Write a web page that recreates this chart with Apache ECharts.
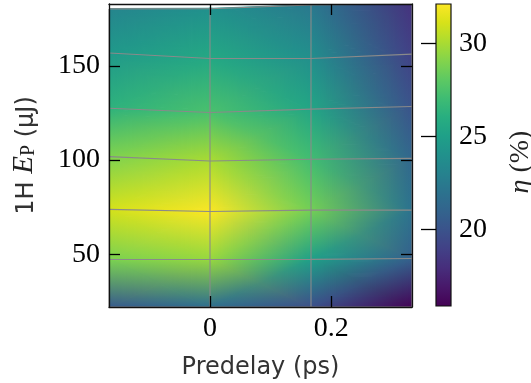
<!DOCTYPE html>
<html><head><meta charset="utf-8">
<script src="https://cdn.jsdelivr.net/npm/echarts@6/dist/echarts.min.js"></script>
<style>html,body{margin:0;padding:0;background:#fff}#c{width:531px;height:383px}</style>
</head><body><div id="c"></div>
<script>
// Scan grid: predelay columns (ps)
const predelay = [-1/6, 0, 1/6, 1/3];
// Pump energy of each scan row at each predelay column (uJ)
const rowEnergy = [
  [22.0, 22.0, 22.0, 22.0],
  [47.2, 47.2, 47.3, 47.7],
  [73.8, 72.7, 73.4, 73.4],
  [101.8, 99.5, 100.4, 100.9],
  [127.5, 125.2, 127.0, 128.4],
  [156.8, 153.9, 153.9, 156.2],
  [180.2, 180.3, 182.3, 182.8]
];
// Efficiency eta (%) at each node
const efficiency = [
  [20.5, 21.7, 19.8, 16.0],
  [28.8, 29.5, 25.0, 20.8],
  [31.0, 32.0, 28.6, 22.0],
  [28.9, 30.0, 27.1, 21.2],
  [26.3, 27.4, 25.4, 20.0],
  [24.5, 25.6, 23.9, 19.0],
  [23.2, 24.0, 22.4, 18.2]
];
const xTicks = [0, 0.2];
const yTicks = [50, 100, 150];
const cbTicks = [20, 25, 30];
const etaMin = 15.9, etaMax = 32.1;
const xMin = -1/6, xMax = 1/3, yMin = 22.0, yMax = 182.8;

const VIR = ['#440154','#481769','#472d7b','#424086','#3b528b','#33638d','#2c728e','#26828e','#21918c','#1fa088','#28ae80','#3fbc73','#5ec962','#84d44b','#addc30','#d8e219','#fde725'];
const hex2rgb = h => [parseInt(h.slice(1,3),16), parseInt(h.slice(3,5),16), parseInt(h.slice(5,7),16)];
const VIRRGB = VIR.map(hex2rgb);
function viridis(v){
  let t = (v - etaMin) / (etaMax - etaMin); t = Math.max(0, Math.min(1, t));
  const f = t * 16, i = Math.min(15, Math.floor(f)), u = f - i;
  const a = VIRRGB[i], b = VIRRGB[i+1];
  return [0,1,2].map(k => a[k] + (b[k] - a[k]) * u);
}
const rgbStr = c => 'rgb(' + c.map(x => Math.round(x)).join(',') + ')';
const lerp2 = (a, b, s) => [a[0] + (b[0]-a[0])*s, a[1] + (b[1]-a[1])*s];
const lerp3 = (a, b, s) => [0,1,2].map(k => a[k] + (b[k]-a[k])*s);
const dist = (a, b) => Math.hypot(a[0]-b[0], a[1]-b[1]);

const quads = [];
for (let r = 0; r < rowEnergy.length - 1; r++) for (let c = 0; c < predelay.length - 1; c++) quads.push([r, c]);

const N = 24, OV = 0.9;
function stripEnds(A, B, C, s){
  const L = lerp2(A, B, s), R = lerp2(A, C, s);
  const d = dist(L, R);
  if (d < 1e-6) return [L, R];
  const e = OV / d;
  return [[L[0] + (L[0]-R[0])*e, L[1] + (L[1]-R[1])*e], [R[0] + (R[0]-L[0])*e, R[1] + (R[1]-L[1])*e]];
}
function renderQuad(params, api){
  const r = api.value(0), c = api.value(1);
  const P = (rr, cc) => api.coord([predelay[cc], rowEnergy[rr][cc]]);
  const Cl = (rr, cc) => viridis(efficiency[rr][cc]);
  const pts = [P(r,c), P(r,c+1), P(r+1,c+1), P(r+1,c)];
  const cols = [Cl(r,c), Cl(r,c+1), Cl(r+1,c+1), Cl(r+1,c)];
  const cp = [0,1].map(k => (pts[0][k]+pts[1][k]+pts[2][k]+pts[3][k])/4);
  const cc = [0,1,2].map(k => (cols[0][k]+cols[1][k]+cols[2][k]+cols[3][k])/4);
  const children = [{type:'circle', shape:{cx:cp[0], cy:cp[1], r:2.5}, style:{fill:rgbStr(cc)}}];
  for (let k = 0; k < 4; k++){
    const B = pts[k], C = pts[(k+1)%4], cB = cols[k], cC = cols[(k+1)%4];
    const mid = lerp2(B, C, 0.5), h = Math.max(1, dist(cp, mid));
    for (let s = 0; s < N; s++){
      const s0 = s/N, s1 = (s+1)/N + OV/h, sm = (s+0.5)/N;
      const a0 = stripEnds(cp, B, C, s0), a1 = stripEnds(cp, B, C, s1);
      const poly = [a0[0], a1[0], a1[1], a0[1]];
      const g1 = lerp2(cp,B,sm), g2 = lerp2(cp,C,sm);
      const fill = new echarts.graphic.LinearGradient(g1[0], g1[1], g2[0], g2[1], [
        {offset:0, color: rgbStr(lerp3(cc,cB,sm))},
        {offset:1, color: rgbStr(lerp3(cc,cC,sm))}
      ], true);
      children.push({type:'polygon', shape:{points:poly}, style:{fill:fill}});
    }
  }
  return {type:'group', children};
}

function renderColorbar(params, api){
  const p0 = api.coord([0, etaMin]), p1 = api.coord([1, etaMax]);
  const stops = VIR.map((col, i) => ({offset: i/16, color: col}));
  return {type:'rect', shape:{x:p0[0], y:p1[1], width:p1[0]-p0[0], height:p0[1]-p1[1]},
    style:{fill: new echarts.graphic.LinearGradient(0,1,0,0, stops), stroke:'#111', lineWidth:1.2}};
}

const lineSeries = [];
rowEnergy.forEach((row) => {
  lineSeries.push({type:'line', xAxisIndex:0, yAxisIndex:0, silent:true, symbol:'none', z:5,
    lineStyle:{color:'#8a8a8a', width:1.1}, data: predelay.map((x, c) => [x, row[c]])});
});
predelay.forEach((x, c) => {
  lineSeries.push({type:'line', xAxisIndex:0, yAxisIndex:0, silent:true, symbol:'none', z:5,
    lineStyle:{color:'#8a8a8a', width:1.1}, data: rowEnergy.map(row => [x, row[c]])});
});

const axLine = {show:true, onZero:false, lineStyle:{color:'#111', width:1.3}};
const serif = 'Liberation Serif';
const option = {
  animation:false,
  backgroundColor:'#fff',
  grid:[{left:109, top:4, width:303, height:303, outerBoundsMode:'none', containLabel:false},
        {left:436, top:4, width:15, height:302, outerBoundsMode:'none', containLabel:false}],
  xAxis:[
    {gridIndex:0, type:'value', min:xMin, max:xMax, position:'bottom', z:10,
     axisLine:axLine,
     axisTick:{show:true, inside:true, length:11, customValues:xTicks, lineStyle:{color:'#000', width:1.3}},
     axisLabel:{show:true, customValues:xTicks, formatter:v => String(v), fontFamily:serif, fontSize:28, color:'#000', margin:8},
     splitLine:{show:false},
     name:'Predelay (ps)', nameLocation:'middle', nameGap:49,
     nameTextStyle:{fontFamily:'DejaVu Sans', fontSize:24, color:'#333'}},
    {gridIndex:0, type:'value', min:xMin, max:xMax, position:'top', z:10,
     axisLine:axLine,
     axisTick:{show:true, inside:true, length:11, customValues:xTicks, lineStyle:{color:'#000', width:1.3}},
     axisLabel:{show:false}, splitLine:{show:false}},
    {gridIndex:1, type:'value', min:0, max:1, show:false}
  ],
  yAxis:[
    {gridIndex:0, type:'value', min:yMin, max:yMax, position:'left', z:10,
     axisLine:axLine,
     axisTick:{show:true, inside:true, length:11, customValues:yTicks, lineStyle:{color:'#000', width:1.3}},
     axisLabel:{show:true, customValues:yTicks, fontFamily:serif, fontSize:28, color:'#000', margin:9},
     splitLine:{show:false},
     name:'{a|1H }{e|E}{p|P}{a| (μJ)}', nameLocation:'middle', nameGap:70, nameRotate:90,
     nameTextStyle:{fontFamily:'DejaVu Sans', rich:{
       a:{fontFamily:'DejaVu Sans', fontSize:24, color:'#333', lineHeight:34, verticalAlign:'bottom'},
       e:{fontFamily:serif, fontStyle:'italic', fontSize:29, color:'#222', lineHeight:34, verticalAlign:'bottom'},
       p:{fontFamily:serif, fontSize:20, color:'#222', lineHeight:20, verticalAlign:'bottom'}
     }}},
    {gridIndex:0, type:'value', min:yMin, max:yMax, position:'right', z:10,
     axisLine:axLine,
     axisTick:{show:true, inside:true, length:11, customValues:yTicks, lineStyle:{color:'#000', width:1.3}},
     axisLabel:{show:false}, splitLine:{show:false}},
    {gridIndex:1, type:'value', min:etaMin, max:etaMax, position:'right', z:10,
     axisLine:{show:false},
     axisTick:{show:true, inside:true, length:15, customValues:cbTicks, lineStyle:{color:'#000', width:1.3}},
     axisLabel:{show:true, customValues:cbTicks, fontFamily:serif, fontSize:28, color:'#000', margin:8},
     splitLine:{show:false},
     name:'{e|η}{a| (%)}', nameLocation:'middle', nameGap:56, nameRotate:90,
     nameTextStyle:{padding:[0,14,0,0], rich:{
       e:{fontFamily:serif, fontStyle:'italic', fontSize:28, color:'#222'},
       a:{fontFamily:serif, fontSize:28, color:'#222'}
     }}}
  ],
  series:[
    {type:'custom', xAxisIndex:0, yAxisIndex:0, silent:true, z:2, renderItem:renderQuad, data:quads, clip:true},
    ...lineSeries,
    {type:'custom', xAxisIndex:2, yAxisIndex:2, silent:true, z:2, renderItem:renderColorbar, data:[[0]]}
  ]
};
const chart = echarts.init(document.getElementById('c'), null, {renderer:'canvas'});
chart.setOption(option);
</script></body></html>
